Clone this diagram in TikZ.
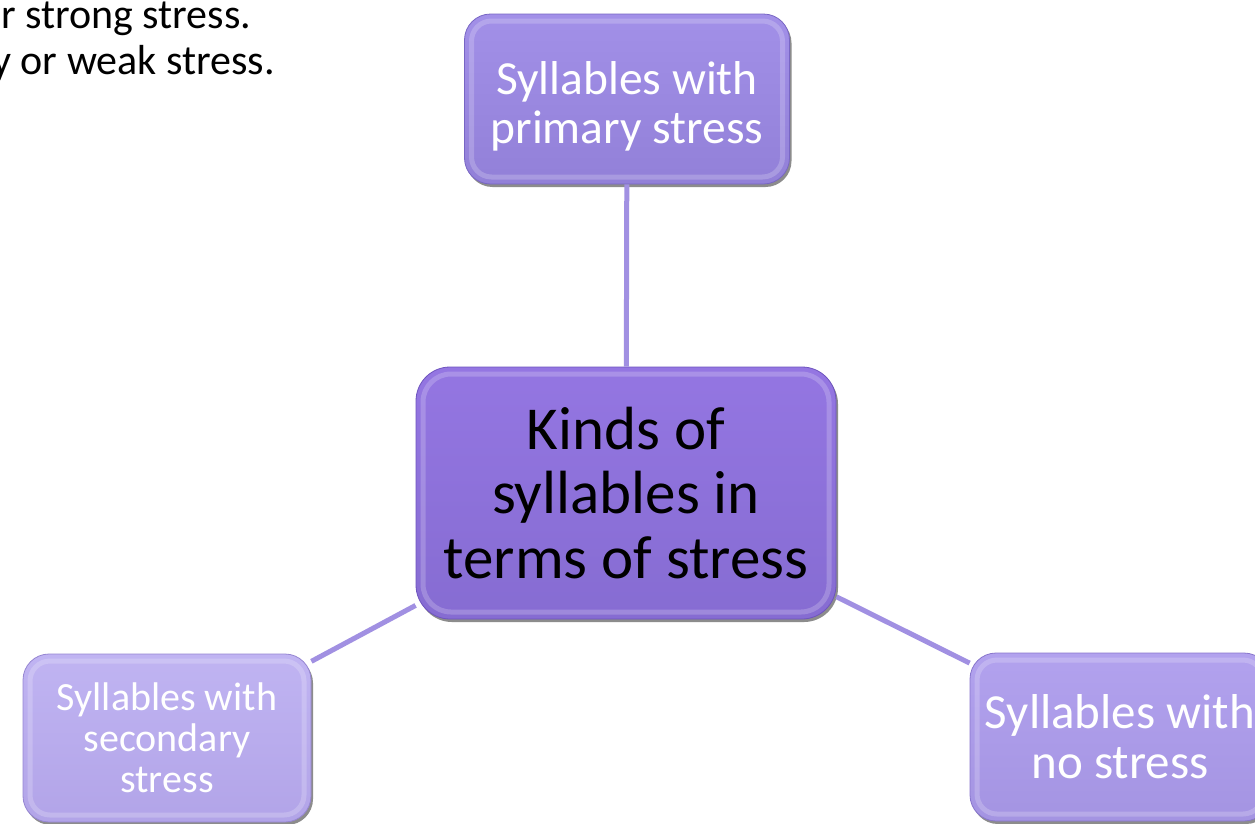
\documentclass[tikz,border=0pt]{standalone}
\usepackage{fontspec}
\setmainfont{Carlito}
\usetikzlibrary{shadows}
\definecolor{linecol}{HTML}{A190E2}
\tikzset{
  x=1pt,y=-1pt,
  kbox/.style={rounded corners=26pt, align=center, inner sep=0pt,
    line width=0.8pt,
    drop shadow={shadow xshift=2pt,shadow yshift=-3pt,opacity=0.6,fill=black!75},
    path picture={\draw[white,opacity=.2,line width=5pt,rounded corners=#1]
      ([shift={(7pt,-7pt)}]path picture bounding box.north west) rectangle
      ([shift={(-7pt,7pt)}]path picture bounding box.south east);}},
  conn/.style={draw=linecol, line width=5pt},
}
\begin{document}
\begin{tikzpicture}
\useasboundingbox (0,0) rectangle (1255,823);
\clip (0,0) rectangle (1255,823);
\fill[white] (0,0) rectangle (1255,823);
% top-left text
\node[anchor=base west, inner sep=0pt, font=\fontsize{42}{46}\selectfont] (t1) at (1,28) {r strong stress.};
\node[anchor=base west, inner sep=0pt, font=\fontsize{42}{46}\selectfont] (t2) at (-8,74) {y or weak stress.};
% nodes
\node[kbox=20pt, top color={rgb,255:red,162;green,144;blue,232}, bottom color={rgb,255:red,146;green,128;blue,216},
  draw={rgb,255:red,120;green,102;blue,196},
  minimum width=325pt, minimum height=170pt, text=white,
  font=\fontsize{47.5}{49}\selectfont] (top) at (627,99)
  {\rule{0pt}{48pt}Syllables with\\primary stress};
\node[kbox=28pt, rounded corners=34pt, top color={rgb,255:red,148;green,118;blue,226}, bottom color={rgb,255:red,134;green,108;blue,210},
  draw={rgb,255:red,110;green,84;blue,190},
  minimum width=420pt, minimum height=252pt, text=black,
  font=\fontsize{61}{64.5}\selectfont] (c) at (626,493) {Kinds of\\syllables in\\terms of stress};
\node[kbox=20pt, top color={rgb,255:red,192;green,180;blue,242}, bottom color={rgb,255:red,178;green,164;blue,232},
  draw={rgb,255:red,150;green,134;blue,210},
  minimum width=288pt, minimum height=168pt, text=white,
  font=\fontsize{40}{41}\selectfont] (bl) at (167,738) {Syllables with\\secondary\\stress};
\node[kbox=20pt, top color={rgb,255:red,178;green,162;blue,238}, bottom color={rgb,255:red,164;green,148;blue,226},
  draw={rgb,255:red,136;green,118;blue,204},
  minimum width=300pt, minimum height=168pt, text=white,
  font=\fontsize{49}{50}\selectfont] (br) at (1120,737) {Syllables with\\no stress};
% connectors
\draw[conn] (c) -- (top);
\draw[conn] (c) -- (bl);
\draw[conn] (c) -- (br);
\end{tikzpicture}
\end{document}
